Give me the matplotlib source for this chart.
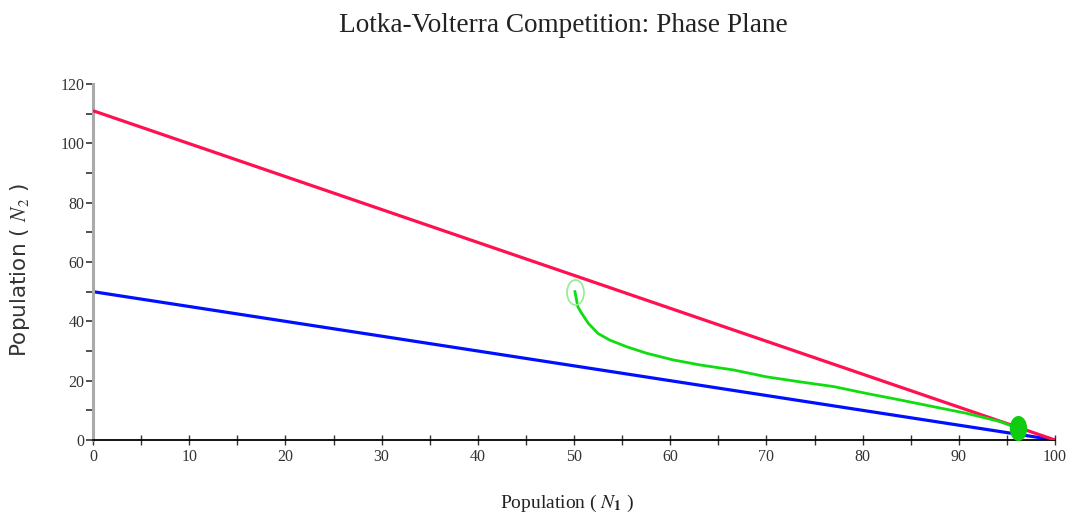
import matplotlib
matplotlib.use("Agg")
import matplotlib.pyplot as plt
from matplotlib.path import Path
from matplotlib.ticker import MultipleLocator

# Isoclines (endpoints)
red_x = [0, 100]
red_y = [111, 0]
blue_x = [0, 100]
blue_y = [50, 0]

# Trajectory
traj_x = [50.1, 50.2, 50.4, 50.8, 51.5, 52.5, 53.7, 55.5, 57.6, 60.3, 63.1, 66.6,
          70.0, 73.5, 77.0, 80.4, 83.9, 87.4, 90.8, 94.3, 96.2]
traj_y = [50.0, 48.3, 44.9, 42.7, 39.3, 35.9, 33.7, 31.4, 29.2, 27.0, 25.3, 23.6,
          21.3, 19.6, 18.0, 15.7, 13.5, 11.2, 9.0, 6.2, 3.9]

title = "Lotka-Volterra Competition: Phase Plane"
xlabel = r'Population ( $\mathit{N}_{\mathbf{1}}$ )'
ylabel = r'Population ( $\mathit{N}_{2}$ )'

plt.rcParams['mathtext.fontset'] = 'stix'

fig = plt.figure(figsize=(10.76, 5.27), dpi=100)
ax = fig.add_axes([93/1076, 87/527, (1055-93)/1076, (440-84)/527])

ax.plot(red_x, red_y, color='#FF1050', lw=2.3, solid_capstyle='butt', zorder=3)
ax.plot(blue_x, blue_y, color='#0010FF', lw=2.3, solid_capstyle='butt', zorder=2)
ax.plot(traj_x, traj_y, color='#10DD10', lw=2.0, zorder=4, solid_joinstyle='round')

uc = Path.unit_circle()
ax.plot(traj_x[:1], traj_y[:1], marker=Path(uc.vertices * [0.68, 1.0], uc.codes), ms=18,
        mfc='none', mec='#90EE90', mew=1.2, ls='none', zorder=5)
ax.plot(traj_x[-1:], traj_y[-1:], marker=Path(uc.vertices * [0.68, 1.0], uc.codes),
        ms=17, mfc='#10CC10', mec='#10CC10', ls='none', zorder=5)

ax.set_xlim(0, 100)
ax.set_ylim(0, 120)
for s in ['top', 'right']:
    ax.spines[s].set_visible(False)
ax.spines['left'].set_color('#aaaaaa')
ax.spines['left'].set_linewidth(2.2)
ax.spines['bottom'].set_color('black')
ax.spines['bottom'].set_linewidth(1.3)

ax.xaxis.set_major_locator(MultipleLocator(10))
ax.xaxis.set_minor_locator(MultipleLocator(5))
ax.yaxis.set_major_locator(MultipleLocator(20))
ax.yaxis.set_minor_locator(MultipleLocator(10))
ax.tick_params(axis='x', which='both', direction='inout', length=7, width=1, colors='#333333',
               labelcolor='#333333', labelsize=11.5, pad=3)
ax.tick_params(axis='y', which='both', direction='out', length=5, width=1.2, colors='#333333',
               labelcolor='#333333', labelsize=11.5, pad=1)
for lab in ax.get_xticklabels() + ax.get_yticklabels():
    lab.set_family('Liberation Serif')

fig.text(563/1076, 1 - 25/527, title, ha='center', va='center', family='Liberation Serif',
         fontsize=19.6, color='#222222')
fig.text(567/1076, 1 - 503/527, xlabel, ha='center', va='center',
         family='Liberation Serif', fontsize=14, color='#222222')
fig.text(20/1076, 1 - 270/527, ylabel, ha='center', va='center', rotation=90,
         family='DejaVu Sans', fontsize=15.5, color='#333333')

fig.savefig('out.png', dpi=100)
